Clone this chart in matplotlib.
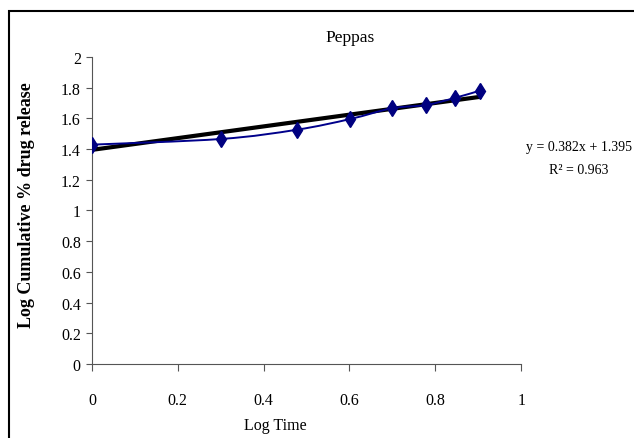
import numpy as np
import matplotlib
matplotlib.use("Agg")
import matplotlib.pyplot as plt
from matplotlib.path import Path
from matplotlib.patches import PathPatch, Rectangle

log_time = [0.0, 0.301, 0.477, 0.602, 0.699, 0.778, 0.845, 0.903]
log_release = [1.429, 1.466, 1.526, 1.596, 1.666, 1.687, 1.733, 1.780]
slope = 0.382
intercept = 1.395
r2 = 0.963

plt.rcParams['font.family'] = ['Liberation Serif', 'DejaVu Serif']

fig = plt.figure(figsize=(6.34, 4.39), dpi=100)
ax = fig.add_axes([0.145, 0.1686, 0.677, 0.6993])

# Excel-style smoothed line (Catmull-Rom as bezier)
pts = np.column_stack([log_time, log_release])
ext = np.vstack([pts[0], pts, pts[-1]])
verts = [tuple(pts[0])]
codes = [Path.MOVETO]
for i in range(len(pts) - 1):
    p0, p1, p2, p3 = ext[i], ext[i + 1], ext[i + 2], ext[i + 3]
    c1 = p1 + (p2 - p0) / 6
    c2 = p2 - (p3 - p1) / 6
    verts += [tuple(c1), tuple(c2), tuple(p2)]
    codes += [Path.CURVE4] * 3
ax.add_patch(PathPatch(Path(verts, codes), facecolor='none', edgecolor='#00008B', lw=1.4, zorder=3))
ax.plot(log_time, log_release, linestyle='none', marker='d', ms=8, color='#000080', zorder=4)

# trendline
xt = np.array([log_time[0], log_time[-1]])
ax.plot(xt, slope * xt + intercept, color='black', lw=3, zorder=2)

ax.set_xlim(0, 1)
ax.set_ylim(0, 2)
ax.set_xticks(np.arange(0, 1.01, 0.2))
ax.set_yticks(np.arange(0, 2.01, 0.2))
ax.set_xticklabels(['0', '0.2', '0.4', '0.6', '0.8', '1'])
ax.set_yticklabels(['0', '0.2', '0.4', '0.6', '0.8', '1', '1.2', '1.4', '1.6', '1.8', '2'])
ax.tick_params(axis='x', direction='out', length=5, pad=15, labelsize=11.5, color='#555555')
ax.tick_params(axis='y', direction='out', length=4, pad=4, labelsize=11.5, color='#555555')
for s in ['top', 'right']:
    ax.spines[s].set_visible(False)
for s in ['left', 'bottom']:
    ax.spines[s].set_color('#555555')

fig.text(350 / 634, 1 - 38 / 439, 'Peppas', ha='center', va='center', fontsize=12.5)
fig.text(27 / 634, 1 - 205 / 439, 'Log Cumulative % drug release', rotation=90,
         ha='center', va='center', fontsize=13, fontweight='bold')
fig.text(275 / 634, 1 - 426 / 439, 'Log Time', ha='center', va='center', fontsize=11.5)
fig.text(579 / 634, 1 - 147 / 439, f'y = {slope}x + {intercept}', ha='center', va='center', fontsize=10)
fig.text(579 / 634, 1 - 170 / 439, f'R² = {r2}', ha='center', va='center', fontsize=10)

fig.patches.append(Rectangle((9 / 634, -0.1), 1.2, 1 - 12 / 439 + 0.1, transform=fig.transFigure,
                             fill=False, edgecolor='black', lw=1.5))

fig.savefig('out.png', dpi=100)
